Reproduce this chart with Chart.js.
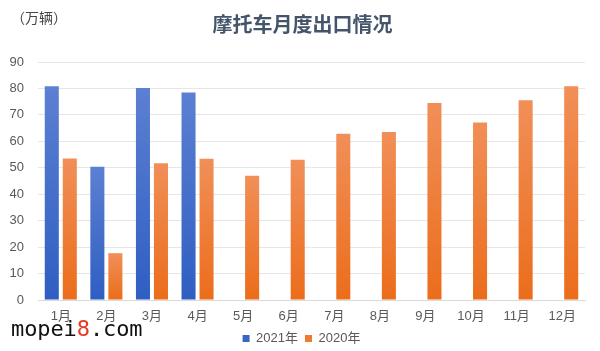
<!DOCTYPE html>
<html>
<head>
<meta charset="utf-8">
<script src="https://cdn.jsdelivr.net/npm/chart.js@4/dist/chart.umd.min.js"></script>
<style>
  body { margin: 0; background: #fff; }
  #wrap { position: relative; width: 600px; height: 351px; }
  #unit { position: absolute; left: 11px; top: 7px; font: 14px "Noto Sans CJK SC", sans-serif; color: #444; }
  #mark { position: absolute; left: 11px; top: 316px; font: 22px "DejaVu Sans Mono", monospace; color: #111; letter-spacing: -0.1px; }
  #mark span { color: #e8391c; }
</style>
</head>
<body>
<div id="wrap">
  <canvas id="statsChart" width="600" height="351"></canvas>
  <div id="unit">（万辆）</div>
  <div id="mark">mopei<span>8</span>.com</div>
</div>
<script>
const months = ["1月", "2月", "3月", "4月", "5月", "6月", "7月", "8月", "9月", "10月", "11月", "12月"];
const seriesNames = ["2021年", "2020年"];
const exports2021 = [80.8, 50.4, 80.2, 78.5, null, null, null, null, null, null, null, null];
const exports2020 = [53.5, 17.7, 51.7, 53.4, 47.0, 53.0, 62.9, 63.5, 74.5, 67.1, 75.5, 80.8];
const yTicks = [0, 10, 20, 30, 40, 50, 60, 70, 80, 90];

function barGradient(top, bottom) {
    return function (context) {
        const chart = context.chart;
        if (!chart.chartArea || context.parsed == null || context.parsed.y == null) {
            return bottom;
        }
        const yScale = chart.scales.y;
        const y0 = yScale.getPixelForValue(context.parsed.y);
        const y1 = yScale.getPixelForValue(0);
        const g = chart.ctx.createLinearGradient(0, y0, 0, y1);
        g.addColorStop(0, top);
        g.addColorStop(1, bottom);
        return g;
    };
}

// nudge title and legend a bit right, the original centres them on the whole picture
const shiftBlocks = {
    id: "shiftBlocks",
    afterLayout(chart) {
        if (chart.titleBlock) {
            chart.titleBlock.left += 6;
            chart.titleBlock.right += 6;
        }
        if (chart.legend) {
            chart.legend.left += 5;
            chart.legend.right += 5;
        }
    }
};

const ctx = document.getElementById("statsChart").getContext("2d");

new Chart(ctx, {
    type: "bar",
    data: {
        labels: months,
        datasets: [{
            label: seriesNames[0],
            data: exports2021,
            backgroundColor: barGradient("#5c80d2", "#2f5ec2"),
            legendColor: "#3a66c6"
        }, {
            label: seriesNames[1],
            data: exports2020,
            backgroundColor: barGradient("#f18f58", "#eb6d1b"),
            legendColor: "#ee7b2f"
        }]
    },
    options: {
        responsive: false,
        animation: false,
        categoryPercentage: 0.79,
        barPercentage: 0.78,
        layout: { padding: { left: 8, right: 15, top: 0, bottom: 0 } },
        plugins: {
            title: {
                display: true,
                text: "摩托车月度出口情况",
                color: "#44546a",
                font: { family: "Noto Sans CJK SC", size: 20, weight: "bold" },
                padding: { top: 12, bottom: 26 }
            },
            legend: {
                position: "bottom",
                maxHeight: 26,
                labels: {
                    boxWidth: 7,
                    boxHeight: 7,
                    padding: 7,
                    color: "#595959",
                    font: { family: "Liberation Sans, Noto Sans CJK SC", size: 13 },
                    generateLabels: function (chart) {
                        return chart.data.datasets.map(function (ds, i) {
                            return {
                                text: ds.label,
                                fillStyle: ds.legendColor,
                                strokeStyle: ds.legendColor,
                                lineWidth: 0,
                                datasetIndex: i,
                                fontColor: "#595959"
                            };
                        });
                    }
                }
            },
            tooltip: { enabled: false }
        },
        scales: {
            x: {
                afterFit: function (scale) { scale.height = 25; },
                grid: { display: false, drawTicks: false },
                border: { color: "#d9d9d9" },
                ticks: {
                    color: "#595959",
                    padding: 9,
                    maxRotation: 0,
                    font: { family: "Liberation Sans, Noto Sans CJK SC", size: 13 }
                }
            },
            y: {
                min: 0,
                max: 90,
                afterFit: function (scale) { scale.width = 30; },
                afterBuildTicks: function (scale) {
                    scale.ticks = yTicks.map(function (v) { return { value: v }; });
                },
                grid: { color: "#e6e6e6", drawTicks: false },
                border: { display: false },
                ticks: {
                    color: "#595959",
                    padding: 14,
                    font: { family: "Liberation Sans", size: 13 }
                }
            }
        }
    },
    plugins: [shiftBlocks]
});
</script>
</body>
</html>
